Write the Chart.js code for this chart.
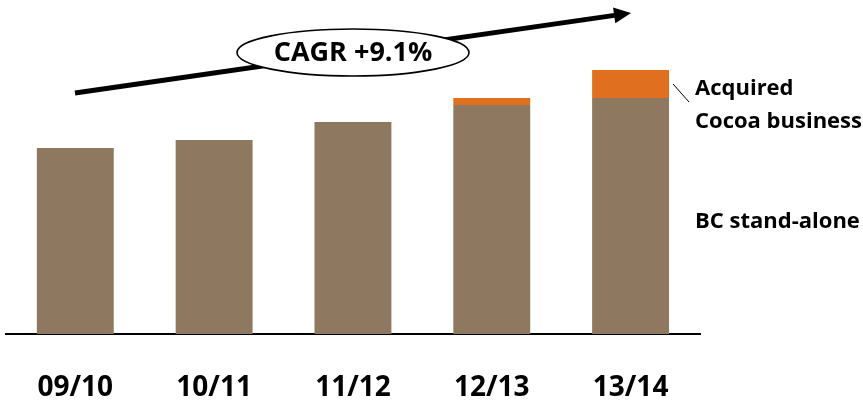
<!DOCTYPE html>
<html>
<head>
<meta charset="utf-8">
<script src="https://cdn.jsdelivr.net/npm/chart.js@4"></script>
<style>
html,body{margin:0;padding:0;background:#fff;}
#wrap{width:863px;height:402px;position:relative;}
</style>
</head>
<body>
<div id="wrap"><canvas id="c" width="863" height="402"></canvas></div>
<script>
// Data (volumes, thousand tonnes)
const categories = ["09/10", "10/11", "11/12", "12/13", "13/14"];
const standAlone = [1212, 1264, 1381, 1492, 1537];
const acquired = [0, 0, 0, 46, 183];
const seriesNames = ["BC stand-alone", "Acquired Cocoa business"];
const cagrLabel = "CAGR +9.1%";

const FONT = "'Open Sans', 'DejaVu Sans', sans-serif";

const decor = {
  id: 'decor',
  afterDraw(chart) {
    const ctx = chart.ctx;
    ctx.save();
    // trend arrow
    const x0 = 75, y0 = 93, x1 = 631, y1 = 13;
    const ang = Math.atan2(y1 - y0, x1 - x0);
    const headLen = 17, headHalf = 8;
    const bx = x1 - headLen * Math.cos(ang), by = y1 - headLen * Math.sin(ang);
    ctx.strokeStyle = '#000';
    ctx.lineWidth = 5;
    ctx.beginPath();
    ctx.moveTo(x0, y0);
    ctx.lineTo(bx + 2 * Math.cos(ang), by + 2 * Math.sin(ang));
    ctx.stroke();
    ctx.fillStyle = '#000';
    ctx.beginPath();
    ctx.moveTo(x1, y1);
    ctx.lineTo(bx - headHalf * Math.sin(ang), by + headHalf * Math.cos(ang));
    ctx.lineTo(bx + headHalf * Math.sin(ang), by - headHalf * Math.cos(ang));
    ctx.closePath();
    ctx.fill();
    // ellipse
    ctx.beginPath();
    ctx.ellipse(353, 52.5, 116, 23.5, 0, 0, Math.PI * 2);
    ctx.fillStyle = '#fff';
    ctx.fill();
    ctx.lineWidth = 1.6;
    ctx.strokeStyle = '#000';
    ctx.stroke();
    ctx.fillStyle = '#000';
    ctx.font = "bold 27px " + FONT;
    ctx.textAlign = 'center';
    ctx.textBaseline = 'alphabetic';
    ctx.fillText(cagrLabel, 353, 61);

    // right-side labels anchored to last bar
    const metaS = chart.getDatasetMeta(0).data[4];
    const metaA = chart.getDatasetMeta(1).data[4];
    const base = chart.scales.y.getPixelForValue(0);
    const right = metaA.x + metaA.width / 2;
    ctx.textAlign = 'left';
    ctx.font = "bold 22px " + FONT;
    ctx.fillText("Acquired", right + 26, 95);
    ctx.fillText("Cocoa business", right + 26, 128);
    ctx.fillText(seriesNames[0], right + 26, (metaS.y + base) / 2 + 12);
    // leader line
    ctx.lineWidth = 1;
    ctx.beginPath();
    ctx.moveTo(right + 4, 84);
    ctx.lineTo(right + 20, 102);
    ctx.stroke();
    ctx.restore();
  }
};

new Chart(document.getElementById('c'), {
  type: 'bar',
  data: {
    labels: categories,
    datasets: [
      { label: seriesNames[0], data: standAlone, backgroundColor: '#8E7860', borderWidth: 0 },
      { label: seriesNames[1], data: acquired, backgroundColor: '#E07020', borderWidth: 0 }
    ]
  },
  options: {
    responsive: false,
    animation: false,
    devicePixelRatio: 1,
    layout: { padding: { left: 5, right: 163, top: 27, bottom: 0 } },
    plugins: { legend: { display: false }, tooltip: { enabled: false } },
    datasets: { bar: { barPercentage: 0.554, categoryPercentage: 1.0 } },
    scales: {
      x: {
        stacked: true,
        grid: { display: false, drawTicks: false },
        border: { display: true, color: '#000', width: 2 },
        ticks: { color: '#000', font: { family: FONT, size: 28, weight: 'bold' }, padding: 37 },
        afterFit: (scale) => { scale.height = 68; }
      },
      y: {
        stacked: true,
        display: false,
        min: 0,
        max: 2000
      }
    }
  },
  plugins: [decor]
});
</script>
</body>
</html>
